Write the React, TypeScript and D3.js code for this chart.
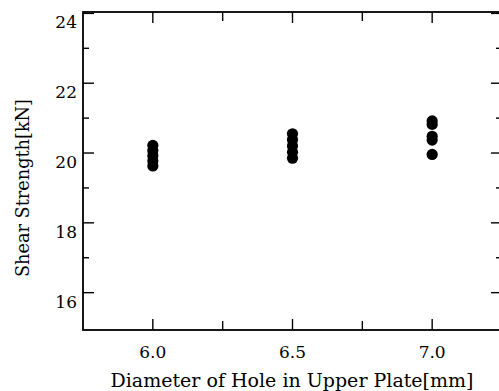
import React from "react";
import * as d3 from "d3";

// hole diameter in the upper plate [mm]
const diameters = [6.0, 6.5, 7.0];
// shear strength [kN] read per diameter group
const strength60 = [20.22, 20.07, 19.92, 19.77, 19.63];
const strength65 = [20.55, 20.38, 20.2, 20.02, 19.85];
const strength70 = [20.92, 20.82, 20.48, 20.37, 19.96];

const xMajor = [6.0, 6.5, 7.0];
const xMinor = [6.25, 6.75];
const yMajor = [16, 18, 20, 22, 24];
const yMinor = [17, 19, 21, 23];

const W = 499;
const H = 391;
const FONT = "'DejaVu Serif', serif";

const App = () => {
  const x = d3.scaleLinear().domain([5.75, 7.25]).range([83, 502]);
  const y = d3.scaleLinear().domain([14.93, 24.04]).range([330, 12]);

  const groups = [strength60, strength65, strength70];
  const points = groups.flatMap((vals, i) =>
    vals.map((v) => ({ d: diameters[i], v }))
  );

  const [x0, x1] = x.range();
  const [yb, yt] = y.range();

  return (
    <svg
      width={W}
      height={H}
      style={{ position: "absolute", left: 0, top: 0, background: "#fff" }}
    >
      {/* frame */}
      <rect
        x={x0}
        y={yt}
        width={x1 - x0}
        height={yb - yt}
        fill="none"
        stroke="#000"
        strokeWidth={1.8}
      />

      {/* x ticks top and bottom */}
      {xMajor.map((t) => (
        <g key={"xm" + t} stroke="#000" strokeWidth={1.4}>
          <line x1={x(t)} x2={x(t)} y1={yb} y2={yb - 11} />
          <line x1={x(t)} x2={x(t)} y1={yt} y2={yt + 11} />
        </g>
      ))}
      {xMinor.map((t) => (
        <g key={"xn" + t} stroke="#000" strokeWidth={1.4}>
          <line x1={x(t)} x2={x(t)} y1={yb} y2={yb - 9} />
          <line x1={x(t)} x2={x(t)} y1={yt} y2={yt + 9} />
        </g>
      ))}

      {/* y ticks left and right */}
      {yMajor.map((t) => (
        <g key={"ym" + t} stroke="#000" strokeWidth={1.4}>
          <line x1={x0} x2={x0 + 11} y1={y(t)} y2={y(t)} />
          <line x1={x1} x2={x1 - 11} y1={y(t)} y2={y(t)} />
        </g>
      ))}
      {yMinor.map((t) => (
        <g key={"yn" + t} stroke="#000" strokeWidth={1.4}>
          <line x1={x0} x2={x0 + 6} y1={y(t)} y2={y(t)} />
          <line x1={x1} x2={x1 - 6} y1={y(t)} y2={y(t)} />
        </g>
      ))}

      {/* tick labels */}
      {xMajor.map((t) => (
        <text
          key={"xl" + t}
          x={x(t)}
          y={358}
          textAnchor="middle"
          fontFamily={FONT}
          fontSize={17}
        >
          {t.toFixed(1)}
        </text>
      ))}
      {yMajor.map((t) => (
        <text
          key={"yl" + t}
          x={77}
          y={y(t) + 15}
          textAnchor="end"
          fontFamily={FONT}
          fontSize={17}
        >
          {t}
        </text>
      ))}

      {/* axis titles */}
      <text
        x={(x0 + 501) / 2}
        y={387}
        textAnchor="middle"
        fontFamily={FONT}
        fontSize={18}
        textLength={363}
        lengthAdjust="spacingAndGlyphs"
      >
        Diameter of Hole in Upper Plate[mm]
      </text>
      <text
        transform={`translate(29,188) rotate(-90)`}
        textAnchor="middle"
        fontFamily={FONT}
        fontSize={18}
        textLength={178}
        lengthAdjust="spacingAndGlyphs"
      >
        Shear Strength[kN]
      </text>

      {/* data */}
      {points.map((p, i) => (
        <circle key={i} cx={x(p.d)} cy={y(p.v)} r={5.6} fill="#000" />
      ))}
    </svg>
  );
};

export default App;
